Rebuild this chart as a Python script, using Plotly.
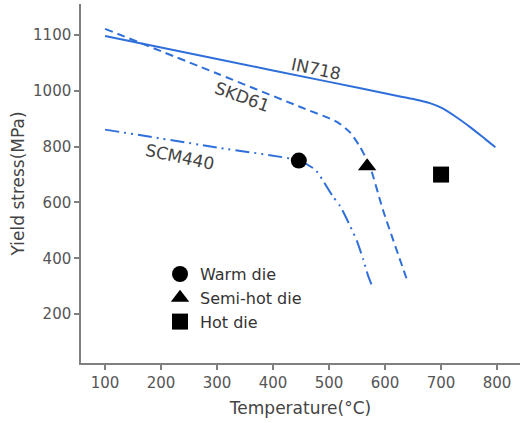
import plotly.graph_objects as go

# ---- data (temperature in degC, yield stress in MPa) ----
in718_t = [100, 300, 500, 627, 654, 680, 702, 725, 752, 779, 797]
in718_s = [1098, 1057, 1016, 980, 969, 956, 938, 909, 870, 827, 798]

skd61_t = [100, 300, 450, 514, 538, 555, 573, 596, 640]
skd61_s = [1111, 1031, 941, 889, 850, 800, 729, 575, 318]

scm440_t = [100, 300, 446, 475, 488, 507, 520, 538, 550, 561, 570, 577]
scm440_s = [861, 797, 750, 718, 682, 621, 586, 514, 461, 396, 336, 300]

die_names = ["Warm die", "Semi-hot die", "Hot die"]
die_t = [446, 568, 700]
die_s = [750, 730, 700]
die_symbols = ["circle", "triangle-up", "square"]

y_tick_labels = [200, 400, 600, 800, 1000, 1100]
x_tick_labels = [100, 200, 300, 400, 500, 600, 700, 800]


# The original axis is non-uniform: the 1000-1100 step spans as much as a 200 step.
def to_axis(v):
    return v if v <= 1000 else 1000 + 2 * (v - 1000)


blue = "#2F6FDA"
fig = go.Figure()

fig.add_trace(go.Scatter(x=in718_t, y=[to_axis(v) for v in in718_s], mode="lines",
                         line=dict(color=blue, width=2, shape="spline", smoothing=0.8),
                         showlegend=False))
fig.add_trace(go.Scatter(x=skd61_t, y=[to_axis(v) for v in skd61_s], mode="lines",
                         line=dict(color=blue, width=2, dash="8px,5px", shape="spline", smoothing=0.6),
                         showlegend=False))
fig.add_trace(go.Scatter(x=scm440_t, y=[to_axis(v) for v in scm440_s], mode="lines",
                         line=dict(color=blue, width=2, dash="14px,5px,2px,5px,2px,5px",
                                   shape="spline", smoothing=0.6),
                         showlegend=False))

for name, t, s, sym in zip(die_names, die_t, die_s, die_symbols):
    fig.add_trace(go.Scatter(x=[t], y=[to_axis(s)], mode="markers", name=name,
                             marker=dict(symbol=sym, size=16, color="black"),
                             showlegend=True))

label_font = dict(family="DejaVu Sans", size=17, color="#444444")
for txt, x, y, ang in [("IN718", 477, 1039, 12), ("SKD61", 346, 979, 20), ("SCM440", 234, 764, 12)]:
    fig.add_annotation(x=x, y=to_axis(y), text=txt, showarrow=False, textangle=ang,
                       font=label_font, xref="x", yref="y")

axis_common = dict(showline=True, linecolor="#808080", linewidth=1.5, ticks="outside",
                   ticklen=5, tickwidth=1.5, tickcolor="#808080", showgrid=False,
                   zeroline=False, automargin=False,
                   tickfont=dict(family="DejaVu Sans", size=15, color="#555555"))

fig.update_xaxes(range=[57, 841], tickvals=x_tick_labels,
                 title=dict(text="Temperature(°C)", font=dict(family="DejaVu Sans", size=17, color="#444444"),
                            standoff=11),
                 **axis_common)
fig.update_yaxes(range=[25, 1311], tickvals=[to_axis(v) for v in y_tick_labels],
                 ticktext=[str(v) for v in y_tick_labels],
                 title=dict(text="Yield stress(MPa)", font=dict(family="DejaVu Sans", size=17, color="#444444"),
                            standoff=4),
                 **axis_common)

fig.update_layout(
    width=524, height=423,
    margin=dict(l=81, r=4, t=4, b=60),
    paper_bgcolor="white", plot_bgcolor="white",
    legend=dict(x=0.18, y=0.295, xanchor="left", yanchor="top", bgcolor="rgba(0,0,0,0)",
                font=dict(family="DejaVu Sans", size=16, color="#333333"), itemsizing="trace"),
)

fig.write_html("out.html", config={"displayModeBar": False},
               post_script="document.body.style.margin='0px';")
